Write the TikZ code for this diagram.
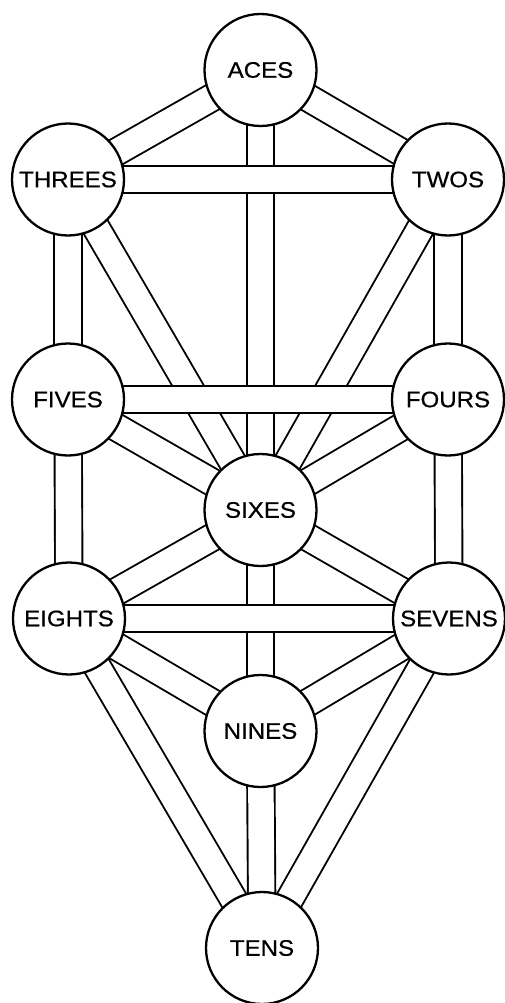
\documentclass[tikz,border=0pt]{standalone}
\usepackage{fontspec}
\newfontfamily\lblfont[FakeStretch=1.07,FakeBold=0.6]{Liberation Sans}
\begin{document}
\begin{tikzpicture}[x=1pt,y=-1pt,
  channel/.style={line width=1.9pt, double=white, double distance=25.5pt, line cap=butt},
  sefira/.style={circle, draw, line width=2.3pt, fill=white, minimum size=112pt, inner sep=0pt,
    font=\lblfont\fontsize{22.5}{24}\selectfont}]
\useasboundingbox (0,0) rectangle (504,1003);
\fill[white] (0,0) rectangle (504,1003);
% positions
\coordinate (pA) at (260.5,70);
\coordinate (pB) at (68,179.5);
\coordinate (pC) at (448,179.5);
\coordinate (pD) at (68,399.5);
\coordinate (pE) at (448,399.5);
\coordinate (pF) at (260.5,510);
\coordinate (pG) at (69,618.5);
\coordinate (pH) at (449,618.5);
\coordinate (pI) at (260.5,731);
\coordinate (pJ) at (262,948);
% channels: verticals and diagonals
\draw[channel] (pA) -- (pB);
\draw[channel] (pA) -- (pC);
\draw[channel] (pB) -- (pD);
\draw[channel] (pC) -- (pE);
\draw[channel] (pD) -- (pG);
\draw[channel] (pE) -- (pH);
\draw[channel] (pG) -- (pJ);
\draw[channel] (pH) -- (pJ);
\draw[channel] (pI) -- (pJ);
\draw[channel] (pF) -- (pI);
\draw[channel] (pG) -- (pI);
\draw[channel] (pH) -- (pI);
\draw[channel] (pF) -- (pG);
\draw[channel] (pF) -- (pH);
\draw[channel] (pA) -- (pF);
\draw[channel] (pB) -- (pF);
\draw[channel] (pC) -- (pF);
\draw[channel] (pD) -- (pF);
\draw[channel] (pE) -- (pF);
% horizontals on top
\draw[channel] (pB) -- (pC);
\draw[channel] (pD) -- (pE);
\draw[channel] (pG) -- (pH);
% nodes
\node[sefira] (aces) at (pA) {ACES};
\node[sefira] (threes) at (pB) {THREES};
\node[sefira] (twos) at (pC) {TWOS};
\node[sefira] (fives) at (pD) {FIVES};
\node[sefira] (fours) at (pE) {FOURS};
\node[sefira] (sixes) at (pF) {SIXES};
\node[sefira] (eights) at (pG) {EIGHTS};
\node[sefira] (sevens) at (pH) {SEVENS};
\node[sefira] (nines) at (pI) {NINES};
\node[sefira] (tens) at (pJ) {TENS};
\end{tikzpicture}
\end{document}
